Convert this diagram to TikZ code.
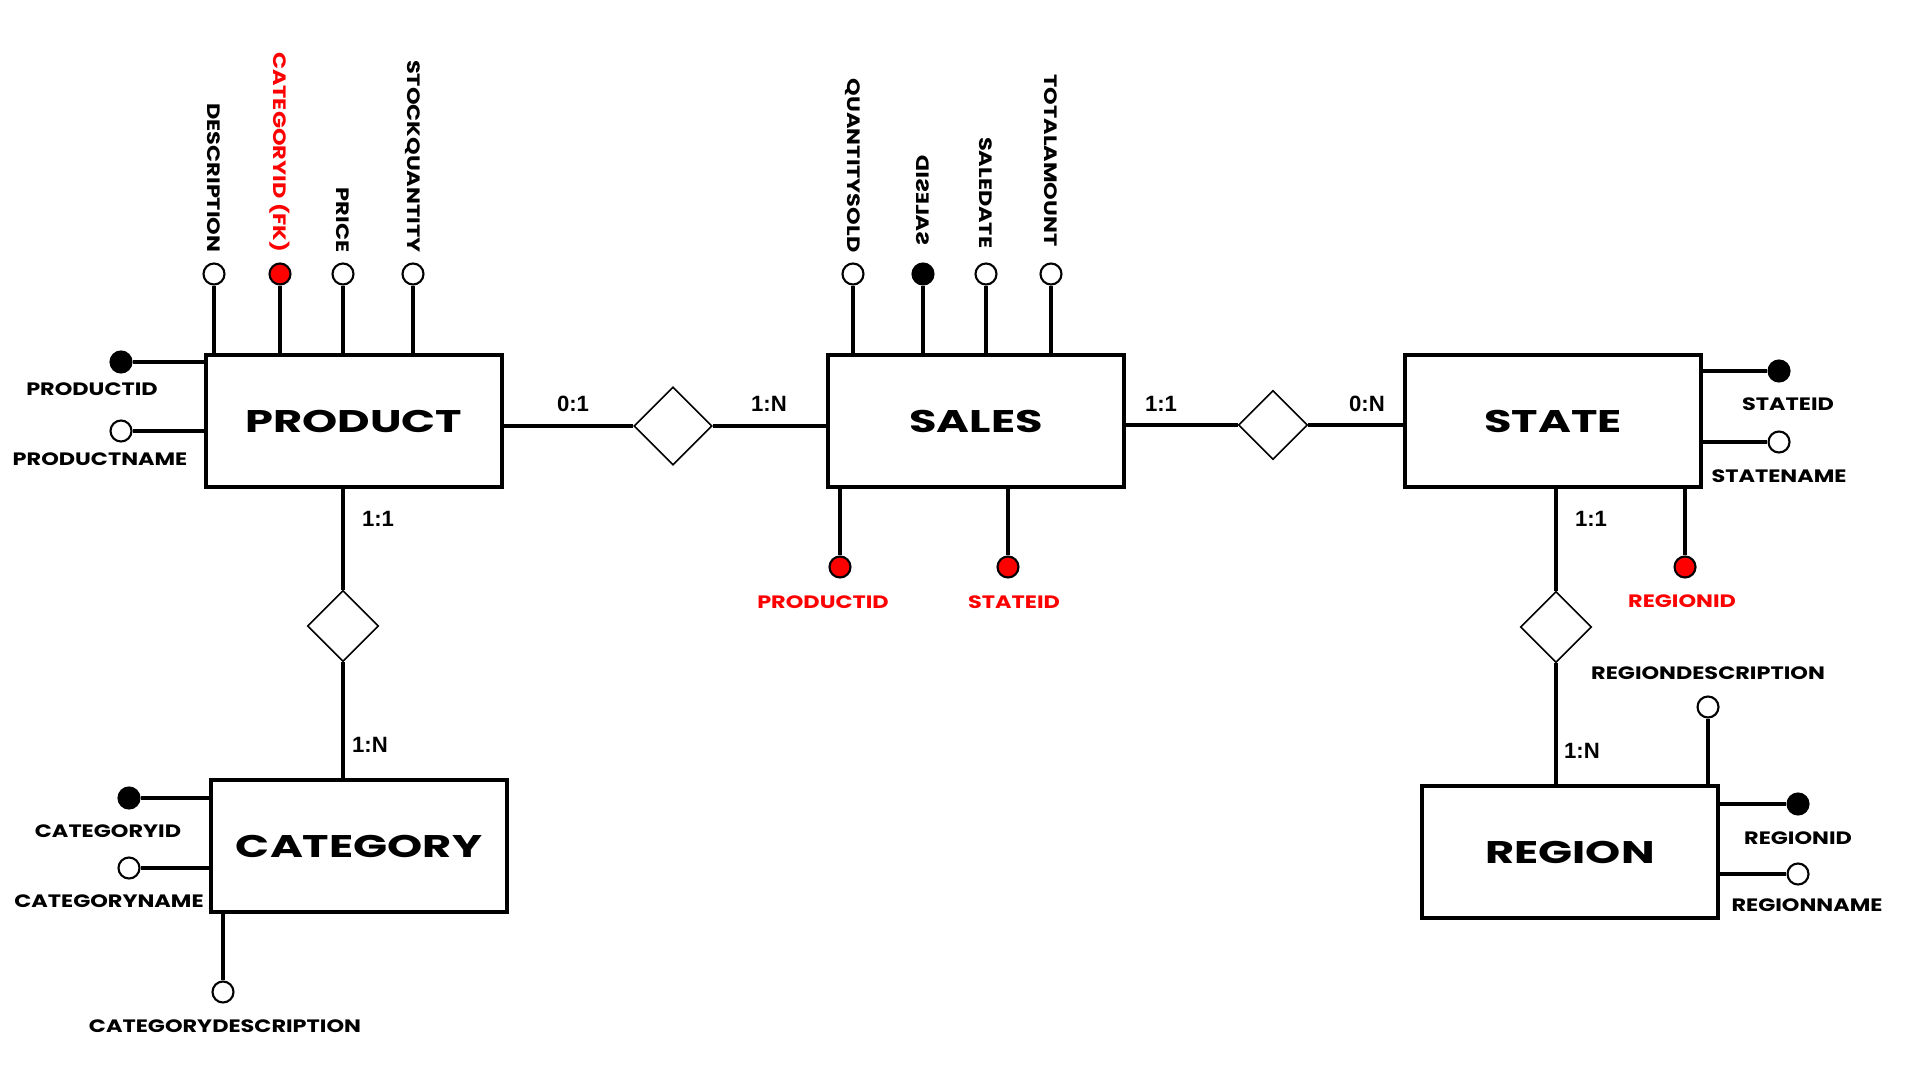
\documentclass[tikz,border=0pt]{standalone}
\usepackage{fontspec}
\newfontfamily\attrfont[FakeStretch=1.25]{Poppins}
\newfontfamily\entfont[FakeStretch=1.43]{Poppins}
\newfontfamily\cardfont{Liberation Sans}
\usetikzlibrary{shapes.geometric}

\begin{document}
\begin{tikzpicture}[
  entity/.style={draw, line width=1.15pt, minimum width=2.96cm, minimum height=1.32cm,
                 inner sep=0pt, font=\entfont\bfseries\fontsize{8.9}{10}\selectfont},
  rel/.style={draw, diamond, line width=0.45pt, inner sep=0pt, minimum size=0.71cm},
  attr/.style={circle, draw, line width=0.6pt, fill=white, minimum size=0.21cm, inner sep=0pt},
  key/.style={attr, fill=black},
  fk/.style={attr, fill=red},
  link/.style={line width=1.1pt},
  conn/.style={line width=0.95pt},
  lbl/.style={font=\attrfont\bfseries\fontsize{5.1}{6}\selectfont, inner sep=0pt},
  vlbl/.style={lbl, rotate=-90, anchor=east},
  card/.style={font=\cardfont\bfseries\fontsize{6.3}{7}\selectfont, inner sep=0pt}
]
\useasboundingbox (0,0) rectangle (19.2,-10.8);

% Entities
\node[entity] at (3.54,-4.21)  (product)  {PRODUCT};
\node[entity] at (9.76,-4.21)  (sales)    {SALES};
\node[entity] at (15.53,-4.21) (state)    {STATE};
\node[entity] at (3.59,-8.46)  (category) {CATEGORY};
\node[entity] at (15.70,-8.52) (region)   {REGION};

% Relationships
\node[rel, minimum size=0.78cm] at (6.73,-4.26)  (prodsales)   {};
\node[rel, minimum size=0.69cm] at (12.73,-4.25) (salesstate)  {};
\node[rel]                      at (15.56,-6.27) (stateregion) {};
\node[rel]                      at (3.43,-6.26)  (prodcat)     {};

\draw[conn] (product.east |- prodsales) -- (prodsales);
\draw[conn] (prodsales) -- (sales.west |- prodsales);
\draw[conn] (sales.east |- salesstate) -- (salesstate);
\draw[conn] (salesstate) -- (state.west |- salesstate);
\draw[conn] (state.south -| stateregion) -- (stateregion);
\draw[conn] (stateregion) -- (region.north -| stateregion);
\draw[conn] (product.south -| prodcat) -- (prodcat);
\draw[conn] (prodcat) -- (category.north -| prodcat);

% Cardinalities
\node[card] at (5.73,-4.04)  (c1) {0:1};
\node[card] at (7.69,-4.04)  (c2) {1:N};
\node[card] at (11.61,-4.04) (c3) {1:1};
\node[card] at (13.67,-4.04) (c4) {0:N};
\node[card] at (15.91,-5.19) (c5) {1:1};
\node[card] at (15.82,-7.51) (c6) {1:N};
\node[card] at (3.78,-5.19)  (c7) {1:1};
\node[card] at (3.70,-7.45)  (c8) {1:N};

% Product attributes
\foreach \x/\n/\s in {2.14/pdesc/attr, 2.80/pcat/fk, 3.43/pprice/attr, 4.13/pstock/attr} {
  \node[\s] at (\x,-2.74) (\n) {};
  \draw[link] (\n) -- (\n |- product.north);
}
\node[vlbl] at (2.14,-2.53) (pdesclbl) {DESCRIPTION};
\node[vlbl, text=red] at (2.80,-2.53) (pcatlbl) {CATEGORYID (FK)};
\node[vlbl] at (3.43,-2.53) (ppricelbl) {PRICE};
\node[vlbl] at (4.13,-2.53) (pstocklbl) {STOCKQUANTITY};

\node[key]  at (1.21,-3.62) (pid)   {};
\node[attr] at (1.21,-4.31) (pname) {};
\draw[link] (pid) -- (pid -| product.west);
\draw[link] (pname) -- (pname -| product.west);
\node[lbl] at (0.92,-3.89) (pidlbl)   {PRODUCTID};
\node[lbl] at (1.00,-4.59) (pnamelbl) {PRODUCTNAME};

% Sales attributes
\foreach \x/\n/\s in {8.53/sqty/attr, 9.23/sid/key, 9.86/sdate/attr, 10.51/stotal/attr} {
  \node[\s] at (\x,-2.74) (\n) {};
  \draw[link] (\n) -- (\n |- sales.north);
}
\node[vlbl] at (8.53,-2.53) (sqtylbl) {QUANTITYSOLD};
\node[lbl, xscale=-1, rotate=90, anchor=west] at (9.23,-2.46) (sidlbl) {SALESID};
\node[vlbl] at (9.86,-2.49) (sdatelbl) {SALEDATE};
\node[vlbl] at (10.51,-2.47) (stotallbl) {TOTALAMOUNT};

\foreach \x/\n in {8.40/sprod, 10.08/sstate} {
  \node[fk] at (\x,-5.67) (\n) {};
  \draw[link] (\n) -- (\n |- sales.south);
}
\node[lbl, text=red] at (8.23,-6.02)  (sprodlbl)  {PRODUCTID};
\node[lbl, text=red] at (10.14,-6.02) (sstatelbl) {STATEID};

% State attributes
\node[key]  at (17.79,-3.71) (stid)   {};
\node[attr] at (17.79,-4.42) (stname) {};
\draw[link] (stid) -- (stid -| state.east);
\draw[link] (stname) -- (stname -| state.east);
\node[lbl] at (17.88,-4.04) (stidlbl)   {STATEID};
\node[lbl] at (17.79,-4.76) (stnamelbl) {STATENAME};

\node[fk] at (16.85,-5.67) (streg) {};
\draw[link] (streg) -- (streg |- state.south);
\node[lbl, text=red] at (16.82,-6.01) (streglbl) {REGIONID};

% Region attributes
\node[attr] at (17.08,-7.07) (rdesc) {};
\draw[link] (rdesc) -- (rdesc |- region.north);
\node[lbl] at (17.08,-6.73) (rdesclbl) {REGIONDESCRIPTION};

\node[key]  at (17.98,-8.04) (rid)   {};
\node[attr] at (17.98,-8.74) (rname) {};
\draw[link] (rid) -- (rid -| region.east);
\draw[link] (rname) -- (rname -| region.east);
\node[lbl] at (17.98,-8.38) (ridlbl)   {REGIONID};
\node[lbl] at (18.07,-9.05) (rnamelbl) {REGIONNAME};

% Category attributes
\node[key]  at (1.29,-7.98) (cid)   {};
\node[attr] at (1.29,-8.68) (cname) {};
\draw[link] (cid) -- (cid -| category.west);
\draw[link] (cname) -- (cname -| category.west);
\node[lbl] at (1.08,-8.31) (cidlbl)   {CATEGORYID};
\node[lbl] at (1.09,-9.01) (cnamelbl) {CATEGORYNAME};

\node[attr] at (2.23,-9.92) (cdesc) {};
\draw[link] (cdesc) -- (cdesc |- category.south);
\node[lbl] at (2.25,-10.26) (cdesclbl) {CATEGORYDESCRIPTION};

\end{tikzpicture}
\end{document}
